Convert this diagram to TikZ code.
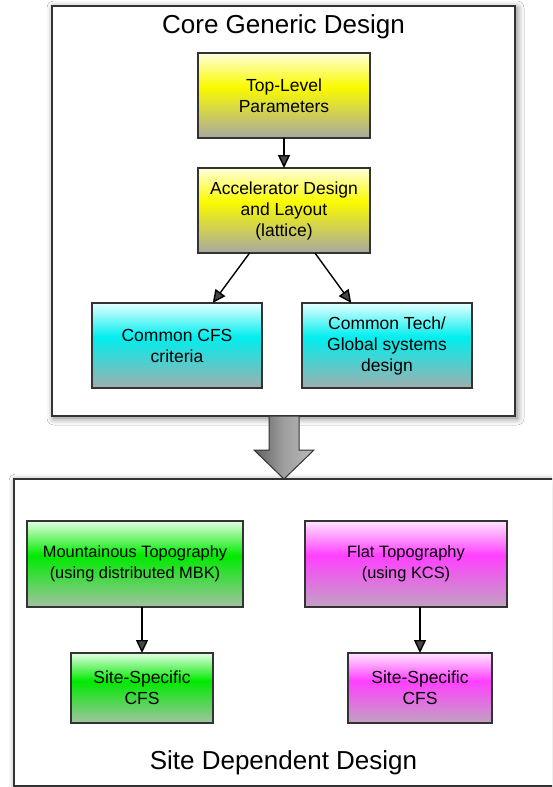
\documentclass[tikz,border=0pt]{standalone}
\usepackage{fontspec}
\setmainfont{Liberation Sans}
\usetikzlibrary{arrows.meta,shadows.blur,calc}
\definecolor{ytop}{HTML}{FFFFDC}\definecolor{ymid}{HTML}{FAFA00}\definecolor{ybot}{HTML}{A8A8A2}
\definecolor{ctop}{HTML}{E6FFFF}\definecolor{cmid}{HTML}{00EEEE}\definecolor{cbot}{HTML}{A0AEAE}
\definecolor{gtop}{HTML}{E4FFE4}\definecolor{gmid}{HTML}{00EA00}\definecolor{gbot}{HTML}{A2C2A2}
\definecolor{mtop}{HTML}{FFE4FF}\definecolor{mmid}{HTML}{FF40FF}\definecolor{mbot}{HTML}{C2A2C2}
\definecolor{edge}{HTML}{333333}
\pgfdeclareverticalshading{yshade}{100bp}{color(0bp)=(ybot); color(25bp)=(ybot); color(55bp)=(ymid); color(75bp)=(ytop); color(100bp)=(ytop)}
\pgfdeclareverticalshading{cshade}{100bp}{color(0bp)=(cbot); color(25bp)=(cbot); color(55bp)=(cmid); color(75bp)=(ctop); color(100bp)=(ctop)}
\pgfdeclareverticalshading{gshade}{100bp}{color(0bp)=(gbot); color(25bp)=(gbot); color(55bp)=(gmid); color(75bp)=(gtop); color(100bp)=(gtop)}
\pgfdeclareverticalshading{mshade}{100bp}{color(0bp)=(mbot); color(25bp)=(mbot); color(55bp)=(mmid); color(75bp)=(mtop); color(100bp)=(mtop)}
\tikzset{
  box/.style={draw=edge, line width=1.3pt, rectangle, inner sep=0pt, outer sep=0pt,
    align=center, font=\fontsize{17.5}{21}\selectfont},
  topo/.style={font=\fontsize{16.4}{21}\selectfont},
  ybox/.style={box, shading=yshade},
  cbox/.style={box, shading=cshade},
  gbox/.style={box, shading=gshade},
  mbox/.style={box, shading=mshade},
  outer/.style={draw=edge, line width=1.5pt, fill=white, blur shadow={shadow xshift=2pt, shadow yshift=-2pt, shadow blur radius=7pt, shadow opacity=55}},
  title/.style={font=\fontsize{26}{30}\selectfont, inner sep=0pt},
  conn/.style={line width=1.4pt, -{Triangle[length=13pt,width=12pt]}},
}
\begin{document}
\begin{tikzpicture}[x=1pt,y=-1pt]
\useasboundingbox (0,0) rectangle (552,787);
\clip (0,0) rectangle (552,787);
\fill[white] (0,0) rectangle (552,787);
% outer boxes
\draw[outer] (52,6) rectangle (515,416);
\draw[outer] (14,479) rectangle (566,786);
\node[title] (core) at (283.5,27) {Core Generic Design};
\node[title] (site) at (283.5,763) {Site Dependent Design};
% big arrow
\shade[left color=gray!75!black, right color=gray!55, middle color=gray!75, draw=edge, line width=1pt]
  (269,416) -- (299,416) -- (299,450) -- (314,450) -- (284,479) -- (254,450) -- (269,450) -- cycle;
% nodes
\node[ybox, minimum width=172pt, minimum height=85pt] (top) at (284,95.5) {Top-Level\\Parameters};
\node[ybox, minimum width=172pt, minimum height=85pt] (acc) at (284,210.5) {Accelerator Design\\and Layout\\(lattice)};
\node[cbox, minimum width=170pt, minimum height=85pt] (cfs) at (177,345.5) {Common CFS\\criteria};
\node[cbox, minimum width=170pt, minimum height=85pt] (tech) at (387,345.5) {Common Tech/\\Global systems\\design};
\node[gbox, topo, minimum width=216pt, minimum height=86pt] (mtn) at (135,564) {Mountainous Topography\\(using distributed MBK)};
\node[mbox, topo, minimum width=202pt, minimum height=86pt] (flat) at (406,564) {Flat Topography\\(using KCS)};
\node[gbox, minimum width=142pt, minimum height=70pt] (ssg) at (142,688) {Site-Specific\\CFS};
\node[mbox, minimum width=144pt, minimum height=70pt] (ssm) at (420,688) {Site-Specific\\CFS};
% connectors
\draw[conn] (top.south) -- (acc.north);
\draw[conn] ($(acc.south west)!0.3!(acc.south east)$) -- ($(cfs.north west)!0.71!(cfs.north east)$);
\draw[conn] ($(acc.south west)!0.68!(acc.south east)$) -- ($(tech.north west)!0.29!(tech.north east)$);
\draw[conn] (ssg.north |- mtn.south) -- (ssg.north);
\draw[conn] (ssm.north |- flat.south) -- (ssm.north);
\end{tikzpicture}
\end{document}
